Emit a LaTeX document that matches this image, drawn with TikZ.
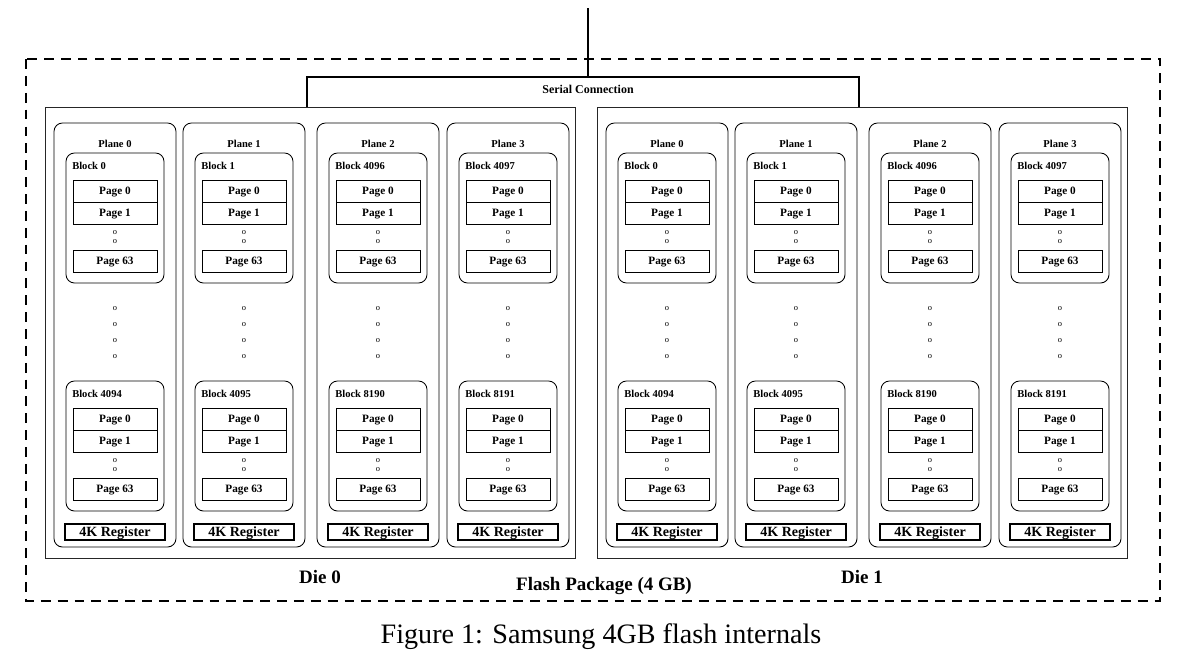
\documentclass[tikz,border=0pt]{standalone}
\usepackage{fontspec}
\setmainfont{Liberation Serif}
\usepackage{tikz}

\tikzset{
  die/.style={draw=black!85, line width=0.6pt},
  plane/.style={draw, rounded corners=6pt, line width=0.6pt},
  blk/.style={draw, rounded corners=6pt, line width=0.6pt},
  pg/.style={draw, line width=0.6pt, inner sep=0pt, text depth=0pt, minimum width=2.1cm, minimum height=0.55cm, font=\bfseries\fontsize{8}{9}\selectfont},
  reg/.style={draw, line width=1.3pt, inner sep=0pt, text depth=0pt, minimum width=2.5cm, minimum height=0.4cm, font=\bfseries\fontsize{10}{11}\selectfont},
  lbl/.style={inner sep=0pt, font=\bfseries\fontsize{7.5}{9}\selectfont},
  dot/.style={inner sep=0pt, font=\fontsize{6}{7}\selectfont},
  bus/.style={line width=1.7pt},
  pkg/.style={line width=1.6pt, dash pattern=on 7pt off 5pt},
  big/.style={inner sep=0pt, font=\bfseries\fontsize{13.5}{15}\selectfont}
}

\begin{document}
\begin{tikzpicture}[x=0.025cm, y=-0.025cm]
\useasboundingbox (0,0) rectangle (1202,667);
% package outline
\draw[pkg] (26,59) rectangle (1160,601);
% the two dies
\draw[die] (45,107) rectangle (575,558);
\draw[die] (597,107) rectangle (1127,558);
\coordinate (busL) at (307,107);
\coordinate (busR) at (859,107);
\coordinate (pin) at (588,8);
\draw[bus] (busL) -- ++(0,-30) -| (busR);
\draw[bus] (pin) -- (pin |- 0,77);
\node[lbl, font=\bfseries\fontsize{8.5}{10}\selectfont] (serial) at (588,89) {Serial Connection};
%
\foreach \d/\dx in {0/45, 1/597}{
  \foreach \p/\px/\ba/\bb in {0/9/0/4094, 1/138/1/4095, 2/272/4096/8190, 3/402/4097/8191}{
    \pgfmathsetmacro\L{\dx+\px}
    \draw[plane] (\L,123) rectangle ++(122,424);
    \node[lbl] (plane\d\p) at (\L+61,144) {Plane \p};
    % two blocks per plane
    \foreach \bn/\by in {\ba/153, \bb/381}{
      \draw[blk] (\L+12,\by) rectangle (\L+110,\by+130);
      \node[lbl, anchor=west] (blk\d\p\by) at (\L+18,\by+13) {Block \bn};
      \node[pg] (pga\d\p\by) at (\L+61,\by+38) {Page 0};
      \node[pg] (pgb\d\p\by) at (\L+61,\by+60) {Page 1};
      \node[dot] (da\d\p\by) at (\L+61,\by+80) {o};
      \node[dot] (db\d\p\by) at (\L+61,\by+89) {o};
      \node[pg] (pgc\d\p\by) at (\L+61,\by+108) {Page 63};
    }
    \foreach \k/\ky in {1/309, 2/325, 3/341, 4/357}
      \node[dot] (gap\d\p\k) at (\L+61,\ky) {o};
    \node[reg] (reg\d\p) at (\L+61,532) {4K Register};
  }
}
%
\node[big] (die0) at (320,577) {Die 0};
\node[big] (die1) at (862,577) {Die 1};
\node[big] (flash) at (604,586) {Flash Package (4 GB)};
\node[inner sep=0pt, font=\fontsize{20}{23}\selectfont] (cap) at (601,637) {Figure 1: Samsung 4GB flash internals};
\end{tikzpicture}
\end{document}
